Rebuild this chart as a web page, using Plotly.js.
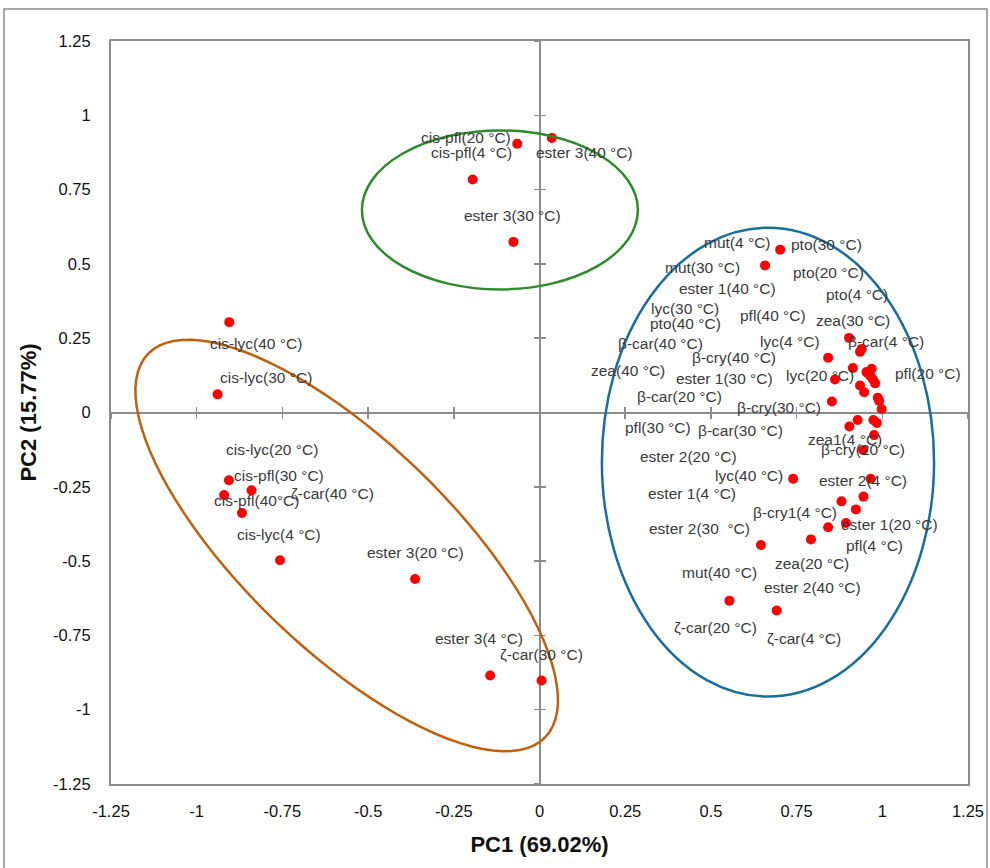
<!DOCTYPE html>
<html>
<head>
<meta charset="utf-8">
<script src="https://cdn.plot.ly/plotly-3.0.1.min.js"></script>
<style>
html,body{margin:0;padding:0;background:#fff;}
#chart{width:990px;height:868px;}
</style>
</head>
<body>
<div id="chart"></div>
<script>
// ---------- data (PC1, PC2 scores) ----------
const labels = [
  "cis-pfl(20 °C)","cis-pfl(4 °C)","ester 3(40 °C)","ester 3(30 °C)",
  "cis-lyc(40 °C)","cis-lyc(30 °C)","cis-lyc(20 °C)","cis-pfl(30 °C)","cis-pfl(40°C)","ζ-car(40 °C)",
  "cis-lyc(4 °C)","ester 3(20 °C)","ester 3(4 °C)","ζ-car(30 °C)",
  "mut(4 °C)","mut(30 °C)","zea(30 °C)","β-car(4 °C)","pto(4 °C)","lyc(4 °C)","lyc(20 °C)",
  "pto(20 °C)","pto(30 °C)","pfl(20 °C)","pfl(40 °C)","β-cry(40 °C)","ester 1(40 °C)","ester 1(30 °C)",
  "β-cry(30 °C)","lyc(30 °C)","pto(40 °C)","β-car(30 °C)","pfl(30 °C)","zea(40 °C)","β-car(40 °C)",
  "zea1(4 °C)","β-cry(20 °C)","ester 2(4 °C)","ester 2(20 °C)","β-cry1(4 °C)","ester 1(20 °C)",
  "pfl(4 °C)","ester 1(4 °C)","zea(20 °C)","ester 2(30  °C)","lyc(40 °C)","ζ-car(20 °C)","ζ-car(4 °C)",
  "β-car(20 °C)","mut(40 °C)","ester 2(40 °C)"
];
const pc1 = [
  -0.065,-0.195,0.036,-0.076,
  -0.905,-0.939,-0.906,-0.840,-0.920,-0.868,
  -0.757,-0.363,-0.144,0.006,
  0.702,0.658,0.903,0.935,0.940,0.842,0.914,
  0.954,0.969,0.966,0.979,0.935,0.947,0.862,
  0.853,0.991,0.998,0.928,0.904,0.974,0.984,
  0.976,0.944,0.966,0.945,0.881,0.923,
  0.894,0.842,0.792,0.646,0.740,0.554,0.692,
  0.958,0.973,0.987
];
const pc2 = [
  0.904,0.784,0.924,0.574,
  0.304,0.061,-0.228,-0.262,-0.278,-0.338,
  -0.497,-0.560,-0.885,-0.902,
  0.548,0.495,0.251,0.204,0.214,0.184,0.150,
  0.136,0.147,0.122,0.098,0.091,0.068,0.111,
  0.037,0.039,0.012,-0.025,-0.047,-0.025,-0.035,
  -0.076,-0.126,-0.223,-0.283,-0.299,-0.326,
  -0.372,-0.386,-0.427,-0.446,-0.223,-0.633,-0.666,
  0.131,0.111,0.050
];
const tickVals = [-1.25,-1,-0.75,-0.5,-0.25,0,0.25,0.5,0.75,1,1.25];
const tickText = ["-1.25","-1","-0.75","-0.5","-0.25","0","0.25","0.5","0.75","1","1.25"];

// ---------- label placement (pixel offsets of each label from its point) ----------
const labelDX = [
  -51,-1,33,-1,
  27,48,43,27,32,91,
  -1,0,-11,0,
  -43,-63,4,26,-5,-38,-33,
  -38,-45,57,-102,-126,-137,-110,
  -53,-194,-196,-117,-191,-245,-216,
  -29,0,-8,-175,-47,34,
  29,-136,1,-61,-44,-14,27,
  -188,-154,-65
];
const labelDY = [
  -6,-27,15,-26,
  21,-17,-31,-15,5,-19,
  -26,-26,-37,-26,
  -7,2,-17,-10,-54,-16,8,
  -100,-124,-3,-68,-28,-104,-1,
  6,-92,-85,11,1,-49,-79,
  4,0,2,-40,11,15,
  22,-34,24,-17,-3,27,28,
  23,193,190
];

// ---------- geometry ----------
const W = 990, H = 868;
const M = {l:111, r:22, t:41, b:84};
const sx = (W - M.l - M.r) / 2.5;   // px per unit (x)
const sy = (H - M.t - M.b) / 2.5;   // px per unit (y)

// rotated ellipse (orange) built in pixel space, converted to data units
function rotEllipse(cx, cy, a, b, deg){
  const th = deg*Math.PI/180; let d = "";
  for(let i=0;i<=96;i++){
    const t = 2*Math.PI*i/96;
    const dx = a*Math.cos(t)*Math.cos(th) - b*Math.sin(t)*Math.sin(th);
    const dy = a*Math.cos(t)*Math.sin(th) + b*Math.sin(t)*Math.cos(th);
    d += (i===0?"M":"L") + (cx + dx/sx).toFixed(4) + "," + (cy - dy/sy).toFixed(4);
  }
  return d + "Z";
}

const annotations = labels.map((t,i)=>({
  x: pc1[i], y: pc2[i], xref:'x', yref:'y', text: t, showarrow:false,
  xshift: labelDX[i], yshift: -labelDY[i], xanchor:'center', yanchor:'middle',
  font:{family:"'Liberation Sans', Arial, sans-serif", size:15.5, color:'#3a3a3a'}
}));

const axisGrey = '#8c8c8c';
const baseAxis = {
  range:[-1.25,1.25], tickmode:'array', tickvals:tickVals, ticktext:tickText,
  showgrid:false, zeroline:false, showline:true, mirror:true,
  linecolor:axisGrey, linewidth:2, ticks:'', 
  tickfont:{family:"'Liberation Sans', Arial, sans-serif", size:16.5, color:'#111'},
  automargin:false, fixedrange:true
};
function crossAxis(overlay, tickDir){
  return {
    overlaying:overlay, anchor:'free', position:0.5, range:[-1.25,1.25],
    tickmode:'array', tickvals:tickVals, showticklabels:false,
    showgrid:false, zeroline:false, showline:true, linecolor:axisGrey, linewidth:2,
    ticks:tickDir, ticklen:5, tickwidth:1.5, tickcolor:axisGrey,
    layer:'below traces', fixedrange:true
  };
}

const traces = [
  {x:[null], y:[null], xaxis:'x2', yaxis:'y2', mode:'markers', showlegend:false, hoverinfo:'skip'},
  {x:[null], y:[null], xaxis:'x3', yaxis:'y3', mode:'markers', showlegend:false, hoverinfo:'skip'},
  {x:pc1, y:pc2, text:labels, mode:'markers', type:'scatter', showlegend:false,
   marker:{color:'#ff0000', size:10, line:{width:0}}}
];

const layout = {
  width:W, height:H, margin:M, paper_bgcolor:'#fff', plot_bgcolor:'#fff',
  showlegend:false,
  xaxis: Object.assign({}, baseAxis, {
    ticklabelstandoff:11,
    title:{text:'<b>PC1 (69.02%)</b>', standoff:18,
      font:{family:"'Liberation Sans', Arial, sans-serif", size:22, color:'#111'}}
  }),
  yaxis: Object.assign({}, baseAxis, {
    ticklabelstandoff:15,
    title:{text:'<b>PC2 (15.77%)</b>', standoff:10,
      font:{family:"'Liberation Sans', Arial, sans-serif", size:22, color:'#111'}}
  }),
  xaxis2: crossAxis('x','outside'),
  xaxis3: crossAxis('x','inside'),
  yaxis2: crossAxis('y','outside'),
  yaxis3: crossAxis('y','inside'),
  shapes:[
    {type:'rect', xref:'paper', yref:'paper',
     x0:(4-M.l)/(W-M.l-M.r), x1:(987-M.l)/(W-M.l-M.r),
     y0:(H-M.b-872)/(H-M.t-M.b), y1:(H-M.b-9)/(H-M.t-M.b),
     line:{color:axisGrey, width:1.5}},
    {type:'circle', xref:'x', yref:'y', x0:-0.518, x1:0.287, y0:0.414, y1:0.949,
     line:{color:'#2e8b2a', width:2.5}},
    {type:'circle', xref:'x', yref:'y', x0:0.182, x1:1.151, y0:-0.956, y1:0.622,
     line:{color:'#1a6e9c', width:2.5}},
    {type:'path', xref:'x', yref:'y', path: rotEllipse(-0.5625,-0.4475,276,104,44),
     line:{color:'#c0600e', width:2.5}}
  ],
  annotations: annotations
};

Plotly.newPlot('chart', traces, layout, {staticPlot:true, displayModeBar:false});
</script>
</body>
</html>
